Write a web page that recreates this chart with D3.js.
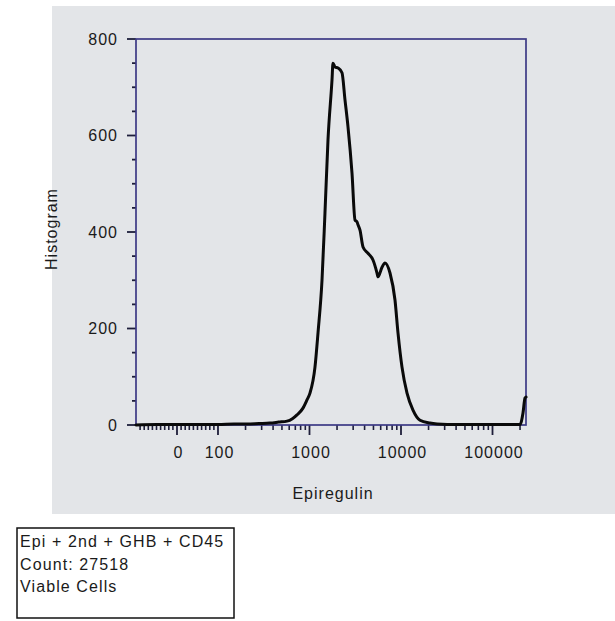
<!DOCTYPE html>
<html><head><meta charset="utf-8">
<script src="https://cdn.jsdelivr.net/npm/d3@7"></script>
<style>
body{margin:0;background:#fff}
text{font-family:"Liberation Sans",Arial,Helvetica,sans-serif;fill:#1a1a1a}
</style>
</head><body>
<svg id="chart" width="615" height="621"></svg>
<script>
// ---- data ----
const intensity = [-100, -50, 0, 50, 100, 150, 207, 280, 370, 460, 568, 650, 730, 849, 939, 1012,
  1148, 1239, 1370, 1476, 1593, 1762, 1806, 1900, 2049, 2266, 2443, 2635, 2914, 3142, 3305, 3389,
  3564, 3844, 4357, 4943, 5470, 5608, 6199, 6686, 7581, 8597, 9272, 10255, 11636, 13520, 16140,
  20750, 24740, 32000, 44150, 70000, 120800, 199800, 215400, 226600, 232300];
const counts = [0, 1, 1, 1, 1, 2, 2, 3, 4, 6, 8, 13, 21, 35, 52, 66,
  120, 191, 300, 439, 591, 715, 750, 742, 740, 730, 674, 618, 522, 425, 421, 415,
  404, 369, 356, 342, 315, 307, 327, 336, 315, 259, 191, 120, 66, 31, 10,
  4, 2, 1, 1, 1, 1, 1, 25, 56, 58];
const yTickValues = [0, 200, 400, 600, 800];
const xTickValues = [0, 100, 1000, 10000, 100000];
const xTickLabels = ["0", "100", "1000", "10000", "100000"];
const xLabel = "Epiregulin";
const yLabel = "Histogram";
const legendLines = ["Epi + 2nd + GHB + CD45", "Count: 27518", "Viable Cells"];

// ---- layout ----
const svg = d3.select("#chart");
const L = 136, R = 526, T = 39, B = 425;
const frameColor = "#3d3a85";

// biexponential-like transform: linear below 100, log above
const LIN = 100, A = 0.448;
const tf = v => v <= LIN ? A * v / LIN : A + Math.log10(v / LIN);
const xDomain = [-100, 232300];
const xLin = d3.scaleLinear().domain(xDomain.map(tf)).range([L, R]);
const x = v => xLin(tf(v));
const y = d3.scaleLinear().domain([0, 800]).range([B, T]);

// background panel
svg.append("rect").attr("x", 52).attr("y", 6).attr("width", 563).attr("height", 508)
  .attr("fill", "#e3e5e8");

// minor x ticks
const xMinor = [];
for (let v = -90; v <= 90; v += 10) if (v !== 0) xMinor.push(v);
for (let d = 100; d <= 100000; d *= 10)
  for (let k = 2; k <= 9; k++) if (d * k <= xDomain[1]) xMinor.push(d * k);
svg.append("g").selectAll("line").data(xMinor).join("line")
  .attr("x1", d => x(d)).attr("x2", d => x(d)).attr("y1", B).attr("y2", B + 5)
  .attr("stroke", "#1e1e3a").attr("stroke-width", 1.6);
svg.append("g").selectAll("line").data(xTickValues).join("line")
  .attr("x1", d => x(d)).attr("x2", d => x(d)).attr("y1", B).attr("y2", B + 10)
  .attr("stroke", "#1e1e3a").attr("stroke-width", 1.8);
svg.append("g").selectAll("text").data(xTickValues).join("text")
  .attr("x", d => x(d) + 1.5).attr("y", B + 33)
  .attr("text-anchor", "middle").attr("font-size", 16).attr("letter-spacing", 1)
  .text((d, i) => xTickLabels[i]);

// y ticks
const yMinor = d3.range(50, 800, 50).filter(v => v % 200 !== 0);
svg.append("g").selectAll("line").data(yMinor).join("line")
  .attr("x1", L - 4).attr("x2", L).attr("y1", d => y(d)).attr("y2", d => y(d))
  .attr("stroke", "#1e1e3a").attr("stroke-width", 1.8);
svg.append("g").selectAll("line").data(yTickValues).join("line")
  .attr("x1", L - 9).attr("x2", L).attr("y1", d => y(d)).attr("y2", d => y(d))
  .attr("stroke", "#1e1e3a").attr("stroke-width", 1.8);
svg.append("g").selectAll("text").data(yTickValues).join("text")
  .attr("x", L - 18).attr("y", d => y(d)).attr("dy", "0.36em")
  .attr("text-anchor", "end").attr("font-size", 16).attr("letter-spacing", 1)
  .text(d => d);

// frame
svg.append("rect").attr("x", L).attr("y", T).attr("width", R - L).attr("height", B - T)
  .attr("fill", "none").attr("stroke", frameColor).attr("stroke-width", 1.7);

// histogram curve
const pts = intensity.map((v, i) => ({v, c: counts[i]}));
const line = d3.line().x(d => x(d.v)).y(d => y(d.c)).curve(d3.curveMonotoneX);
svg.append("path").datum(pts).attr("d", line)
  .attr("fill", "none").attr("stroke", "#0a0a0a").attr("stroke-width", 3)
  .attr("stroke-linejoin", "round").attr("stroke-linecap", "round");

// axis titles
svg.append("text").attr("x", (L + R) / 2 + 2).attr("y", 499)
  .attr("text-anchor", "middle").attr("font-size", 16).attr("letter-spacing", 1)
  .text(xLabel);
svg.append("text").attr("transform", "translate(57,229) rotate(-90)")
  .attr("text-anchor", "middle").attr("font-size", 16).attr("letter-spacing", 1)
  .text(yLabel);

// legend box
const lg = svg.append("g");
lg.append("rect").attr("x", 17).attr("y", 528).attr("width", 217).attr("height", 90)
  .attr("fill", "#fff").attr("stroke", "#111").attr("stroke-width", 1.5);
lg.selectAll("text").data(legendLines).join("text")
  .attr("x", 20).attr("y", (d, i) => [547, 570, 592][i])
  .attr("font-size", 16).attr("letter-spacing", 1.1)
  .text(d => d);
</script>
</body></html>
